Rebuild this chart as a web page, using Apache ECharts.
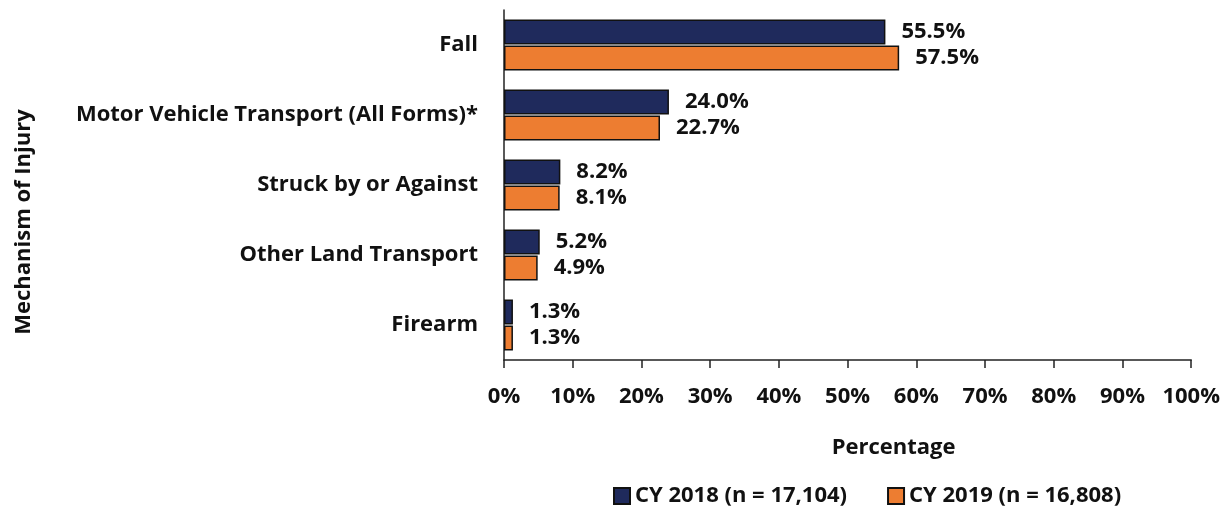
<!DOCTYPE html>
<html>
<head>
<meta charset="utf-8">
<script src="https://cdn.jsdelivr.net/npm/echarts@6/dist/echarts.min.js"></script>
<style>
  html, body { margin: 0; padding: 0; background: #fff; }
  #chart { width: 1223px; height: 508px; }
</style>
</head>
<body>
<div id="chart"></div>
<script>
const categories = [
  "Fall",
  "Motor Vehicle Transport (All Forms)*",
  "Struck by or Against",
  "Other Land Transport",
  "Firearm"
];
const series2018 = [55.5, 24.0, 8.2, 5.2, 1.3];
const series2019 = [57.5, 22.7, 8.1, 4.9, 1.3];
const seriesNames = ["CY 2018 (n = 17,104)", "CY 2019 (n = 16,808)"];

const font = "Open Sans";
const fs = 22;
const myChart = echarts.init(document.getElementById("chart"));

const barLabel = {
  show: true,
  position: "right",
  distance: 16,
  fontFamily: font,
  fontWeight: "bold",
  fontSize: fs,
  color: "#111",
  formatter: (p) => p.value.toFixed(1) + "%"
};

const option = {
  animation: false,
  textStyle: { fontFamily: font },
  grid: { left: 504, right: 31, top: 10, height: 350, containLabel: false },
  legend: {
    top: 480,
    left: 608,
    icon: "rect",
    itemWidth: 16,
    itemHeight: 16,
    itemGap: 40,
    textStyle: { fontFamily: font, fontWeight: "bold", fontSize: fs, color: "#111" },
    data: seriesNames
  },
  xAxis: {
    type: "value",
    min: 0,
    max: 100,
    interval: 10,
    name: "Percentage",
    nameLocation: "middle",
    nameGap: 77,
    nameTextStyle: {
      fontFamily: font, fontWeight: "bold", fontSize: fs, color: "#111",
      padding: [0, 0, 0, 92]
    },
    axisLine: { show: true, lineStyle: { color: "#222", width: 1.5 } },
    axisTick: { show: true, length: 8, lineStyle: { color: "#222", width: 1.5 } },
    splitLine: { show: false },
    axisLabel: {
      fontFamily: font,
      fontWeight: "bold",
      fontSize: fs,
      color: "#111",
      margin: 26,
      formatter: "{value}%"
    }
  },
  yAxis: {
    type: "category",
    inverse: true,
    data: categories,
    name: "Mechanism of Injury",
    nameLocation: "middle",
    nameRotate: 90,
    nameGap: 469,
    nameTextStyle: {
      fontFamily: font, fontWeight: "bold", fontSize: fs, color: "#111",
      padding: [0, 74, 0, 0]
    },
    axisLine: { show: true, lineStyle: { color: "#222", width: 1.5 } },
    axisTick: { show: false },
    axisLabel: {
      fontFamily: font,
      fontWeight: "bold",
      fontSize: fs,
      color: "#111",
      margin: 26
    }
  },
  series: [
    {
      name: seriesNames[0],
      type: "bar",
      data: series2018,
      barWidth: 25,
      barGap: "4%",
      itemStyle: { color: "#1F2A5C", borderColor: "#111", borderWidth: 1.5 },
      label: barLabel
    },
    {
      name: seriesNames[1],
      type: "bar",
      data: series2019,
      barWidth: 25,
      itemStyle: { color: "#ED7D31", borderColor: "#111", borderWidth: 1.5 },
      label: barLabel
    }
  ]
};

myChart.setOption(option);
</script>
</body>
</html>
